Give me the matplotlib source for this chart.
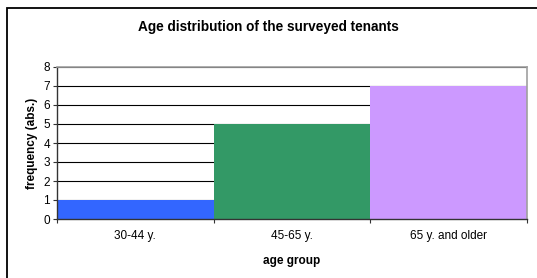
import matplotlib
matplotlib.use("Agg")
import matplotlib.pyplot as plt
from matplotlib.patches import Rectangle

categories = ["30-44 y.", "45-65 y.", "65 y. and older"]
values = [1, 5, 7]
colors = ["#3366ff", "#339966", "#cc99ff"]
yticks = [0, 1, 2, 3, 4, 5, 6, 7, 8]

plt.rcParams['font.family'] = ['Liberation Sans', 'DejaVu Sans']

W, H = 537, 278
fig = plt.figure(figsize=(W/100, H/100), dpi=100)
fig.patch.set_facecolor("white")

# outer chart frame (right and bottom cropped out of the image)
fig.patches.append(Rectangle((7/W, -0.2), 1.2, 1.2 - 8/H, transform=fig.transFigure,
                             fill=False, edgecolor="black", linewidth=1.3))

ax = fig.add_axes([57/W, 1-219/H, (527-57)/W, (219-67)/H])
x = range(len(categories))
ax.bar(x, values, width=1.0, color=colors, zorder=2)
ax.set_xlim(-0.5, len(categories)-0.5)
ax.set_ylim(0, 8)
ax.set_yticks(yticks)
ax.set_xticks([i for i in x])
ax.set_xticklabels(categories, fontsize=8.5)
ax.tick_params(axis='x', length=0, pad=8)
ax.set_xticks([i - 0.5 for i in range(len(categories)+1)], minor=True)
ax.tick_params(axis='x', which='minor', length=3, width=0.8, color="#333333")
ax.tick_params(axis='y', length=3, width=0.8, labelsize=8.5, pad=2, color="#333333")
ax.yaxis.grid(True, color="black", linewidth=0.8, zorder=1)
ax.set_axisbelow(True)
for s in ["top", "right"]:
    ax.spines[s].set_color("#a0a0a0")
    ax.spines[s].set_linewidth(1.2)
ax.spines["left"].set_color("#333333")
ax.spines["bottom"].set_color("#333333")
ax.spines["left"].set_linewidth(1.0)
ax.spines["bottom"].set_linewidth(1.0)

ax.set_xlabel("age group", fontsize=8.5, fontweight="bold", labelpad=9)
ax.set_ylabel("frequency (abs.)", fontsize=8.5, fontweight="bold", labelpad=4)
fig.text(268/W, 1-27/H, "Age distribution of the surveyed tenants", ha="center", va="center",
         fontsize=9.8, fontweight="bold")

fig.savefig("out.png", dpi=100)
